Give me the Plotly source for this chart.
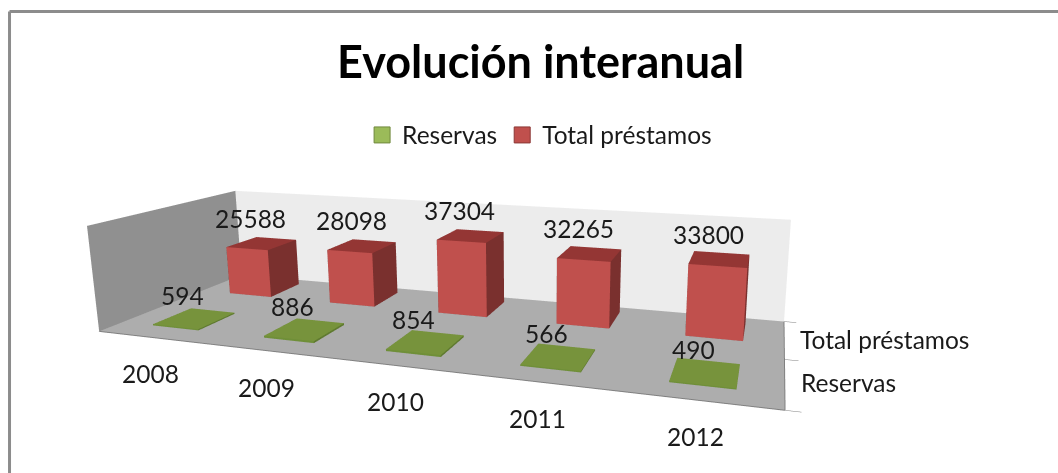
import plotly.graph_objects as go

years = ["2008", "2009", "2010", "2011", "2012"]
reservas = [594, 886, 854, 566, 490]
prestamos = [25588, 28098, 37304, 32265, 33800]
series_names = ["Reservas", "Total préstamos"]

FONT = "Lato"
TXT = "#1a1a1a"
SIZE = 24.5
WIDTH, HEIGHT, TOP_CROP = 1058, 677, 102
xpos = [i + 0.5 for i in range(len(years))]


def py(p):
    return 1 - (p + TOP_CROP) / HEIGHT


def box(cx, y0, y1, val, colors, name):
    x0, x1 = cx - 0.21, cx + 0.21
    X = [x0, x1, x1, x0, x0, x1, x1, x0]
    Y = [y0, y0, y1, y1, y0, y0, y1, y1]
    Z = [0, 0, 0, 0, val, val, val, val]
    faces = [
        (0, 1, 5, "f"), (0, 5, 4, "f"),
        (1, 2, 6, "s"), (1, 6, 5, "s"),
        (4, 5, 6, "t"), (4, 6, 7, "t"),
        (3, 0, 4, "s"), (3, 4, 7, "s"),
        (2, 3, 7, "s"), (2, 7, 6, "s"),
        (0, 1, 2, "s"), (0, 2, 3, "s"),
    ]
    return go.Mesh3d(
        x=X, y=Y, z=Z,
        i=[f[0] for f in faces], j=[f[1] for f in faces], k=[f[2] for f in faces],
        facecolor=[colors[f[3]] for f in faces],
        flatshading=True,
        lighting=dict(ambient=1, diffuse=0, specular=0, roughness=1, fresnel=0),
        hoverinfo="skip", showlegend=False, name=name,
    )


RED = dict(f="#c0504d", t="#943634", s="#7a302e")
GREEN = dict(f="#6f8f38", t="#77933c", s="#5f7a30")

fig = go.Figure()
for i, cx in enumerate(xpos):
    fig.add_trace(box(cx, 0.27, 0.77, reservas[i], GREEN, series_names[0]))
    fig.add_trace(box(cx, 1.35, 1.85, prestamos[i], RED, series_names[1]))

for name, col, line in [(series_names[0], "#9bbb59", "#71893f"), (series_names[1], "#c0504d", "#8c3836")]:
    fig.add_trace(go.Scatter3d(
        x=[None], y=[None], z=[None], mode="markers", name=name,
        marker=dict(symbol="square", size=16, color=col, line=dict(color=line, width=1)),
    ))

font = dict(family=FONT, size=SIZE, color=TXT)
annotations = []
for i, cx in enumerate(xpos):
    annotations.append(dict(x=cx, y=0.52, z=reservas[i], text=str(reservas[i]), showarrow=False,
                            yshift=23, xshift=-12, font=font))
    annotations.append(dict(x=cx, y=1.6, z=prestamos[i], text=str(prestamos[i]), showarrow=False,
                            yshift=25, xshift=-11, font=font))
    annotations.append(dict(x=cx, y=0, z=0, text=years[i], showarrow=False,
                            yshift=-36, xshift=-3, font=font))
for j, name in enumerate(series_names):
    annotations.append(dict(x=5, y=j + 0.5, z=0, text=name, showarrow=False, xanchor="left",
                            xshift=14, font=font))

axis_common = dict(showgrid=False, zeroline=False, showspikes=False, title=dict(text=""))
fig.update_layout(
    width=WIDTH, height=HEIGHT,
    margin=dict(l=0, r=0, t=0, b=0, autoexpand=False),
    paper_bgcolor="white",
    font=dict(family=FONT, color=TXT),
    title=dict(text="<b>Evolución interanual</b>", x=0.511, xanchor="center", y=py(62), yanchor="middle",
               font=dict(family=FONT, size=45, color="#000000")),
    legend=dict(orientation="h", x=0.51, xanchor="center", y=py(135), yanchor="middle",
                font=font, bgcolor="rgba(0,0,0,0)"),
    scene=dict(
        domain=dict(x=[0, 1], y=[0, 1]),
        aspectmode="manual",
        aspectratio=dict(x=2, y=0.7036, z=0.328),
        camera=dict(
            eye=dict(x=0.9411, y=-2.2491, z=0.6396),
            center=dict(x=0.1594, y=0.344, z=0.061),
            up=dict(x=-0.0056, y=0, z=1),
            projection=dict(type="perspective"),
        ),
        xaxis=dict(range=[0, 5], tickmode="array", tickvals=xpos, ticktext=years, showticklabels=False,
                   showbackground=True, backgroundcolor="#909090",
                   showline=True, linecolor="#808080", linewidth=2, ticks="", **axis_common),
        yaxis=dict(range=[0, 2], tickmode="array", tickvals=[0, 1, 2], showticklabels=False,
                   showbackground=True, backgroundcolor="#ececec",
                   showline=True, linecolor="#808080", linewidth=2, ticks="outside", ticklen=4,
                   tickcolor="#808080", **axis_common),
        zaxis=dict(range=[0, 50000], showticklabels=False, ticks="",
                   showbackground=True, backgroundcolor="#adadad", showline=False, **axis_common),
        annotations=annotations,
    ),
    shapes=[
        dict(type="line", xref="paper", yref="paper", x0=0.009, x1=0.009, y0=0, y1=py(11.5),
             line=dict(color="#8c8c8c", width=3)),
        dict(type="line", xref="paper", yref="paper", x0=0.009, x1=1, y0=py(11.5), y1=py(11.5),
             line=dict(color="#8c8c8c", width=3)),
    ],
)
fig.write_html(
    "out.html", config=dict(displayModeBar=False),
    post_script=(
        "document.body.style.margin='0';document.documentElement.style.overflow='hidden';"
        "document.body.style.overflow='hidden';"
        f"document.querySelector('.plotly-graph-div').style.marginTop='-{TOP_CROP}px';"
    ),
)
